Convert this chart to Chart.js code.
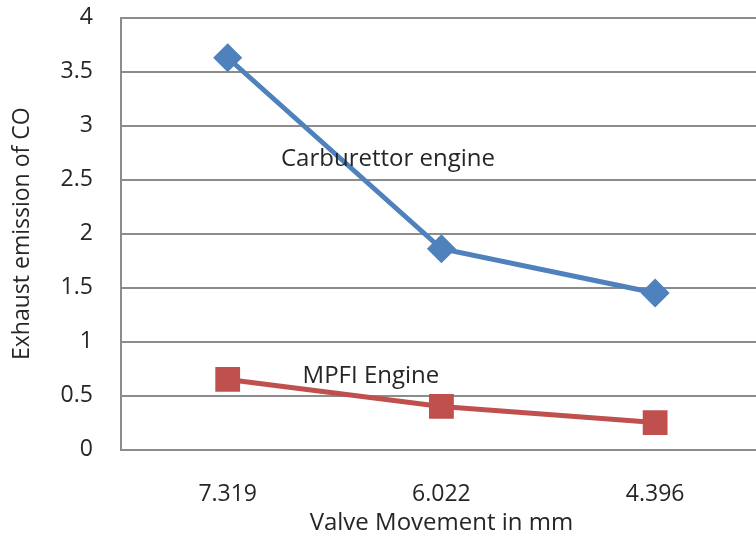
<!DOCTYPE html>
<html>
<head>
<meta charset="utf-8">
<script src="https://cdn.jsdelivr.net/npm/chart.js@4.4.1/dist/chart.umd.min.js"></script>
<style>
  html, body { margin: 0; padding: 0; background: #fff; overflow: hidden; }
  #wrap { width: 762px; height: 540px; }
</style>
</head>
<body>
<div id="wrap"><canvas id="coChart"></canvas></div>
<script>
// Data
const valveMovement = ['7.319', '6.022', '4.396'];
const carburettorCO = [3.63, 1.86, 1.45];
const mpfiCO = [0.65, 0.40, 0.25];
const yTicks = [0, 0.5, 1, 1.5, 2, 2.5, 3, 3.5, 4];

// in-plot series labels: [text, category index, value]
const seriesLabels = [
    ['Carburettor engine', 0.75, 2.69],
    ['MPFI Engine', 0.67, 0.68]
];

const fontFamily = '"Open Sans", "Liberation Sans", sans-serif';
const gridColor = '#8c8c8c';
const textColor = '#262626';

// draws the series names inside the plot, placed through the scales
const seriesLabelPlugin = {
    id: 'seriesLabels',
    afterDatasetsDraw(chart) {
        const { ctx, scales: { x, y } } = chart;
        ctx.save();
        ctx.font = '24px ' + fontFamily;
        ctx.fillStyle = textColor;
        ctx.textAlign = 'center';
        ctx.textBaseline = 'middle';
        seriesLabels.forEach(([text, idx, val]) => {
            ctx.fillText(text, x.getPixelForValue(idx), y.getPixelForValue(val));
        });
        ctx.restore();
    }
};

new Chart(document.getElementById('coChart'), {
    type: 'line',
    data: {
        labels: valveMovement,
        datasets: [
            {
                label: 'Carburettor engine',
                data: carburettorCO,
                borderColor: '#4f81bd',
                backgroundColor: '#4f81bd',
                borderWidth: 5,
                pointStyle: 'rectRot',
                pointRadius: 11,
                pointHoverRadius: 11,
                tension: 0
            },
            {
                label: 'MPFI Engine',
                data: mpfiCO,
                borderColor: '#c0504d',
                backgroundColor: '#c0504d',
                borderWidth: 5,
                pointStyle: 'rect',
                pointRadius: 14,
                pointHoverRadius: 14,
                tension: 0
            }
        ]
    },
    options: {
        responsive: true,
        maintainAspectRatio: false,
        animation: false,
        layout: {
            autoPadding: false,
            padding: { top: 2, left: 9, right: 0, bottom: 2 }
        },
        plugins: {
            legend: { display: false },
            tooltip: { enabled: false }
        },
        scales: {
            x: {
                offset: true,
                grid: { display: false, drawTicks: false },
                border: { display: true, color: gridColor, width: 2 },
                ticks: {
                    color: textColor,
                    padding: 31,
                    maxRotation: 0,
                    font: { family: fontFamily, size: 23 }
                },
                title: {
                    display: true,
                    text: 'Valve Movement in mm',
                    color: textColor,
                    // tick padding is counted twice in the axis height, pull the title back up
                    padding: { top: -30, bottom: 0 },
                    font: { family: fontFamily, size: 24 }
                }
            },
            y: {
                min: 0,
                max: 4,
                afterBuildTicks(axis) {
                    axis.ticks = yTicks.map(v => ({ value: v }));
                },
                grid: { color: gridColor, lineWidth: 2, drawTicks: false },
                border: { display: true, color: gridColor, width: 2 },
                ticks: {
                    color: textColor,
                    padding: 4,
                    font: { family: fontFamily, size: 23 },
                    // trailing spaces keep the labels clear of the axis
                    callback: v => String(v) + '    '
                },
                title: {
                    display: true,
                    text: 'Exhaust emission of CO',
                    color: textColor,
                    padding: { top: 0, bottom: 20 },
                    font: { family: fontFamily, size: 23 }
                }
            }
        }
    },
    plugins: [seriesLabelPlugin]
});
</script>
</body>
</html>
